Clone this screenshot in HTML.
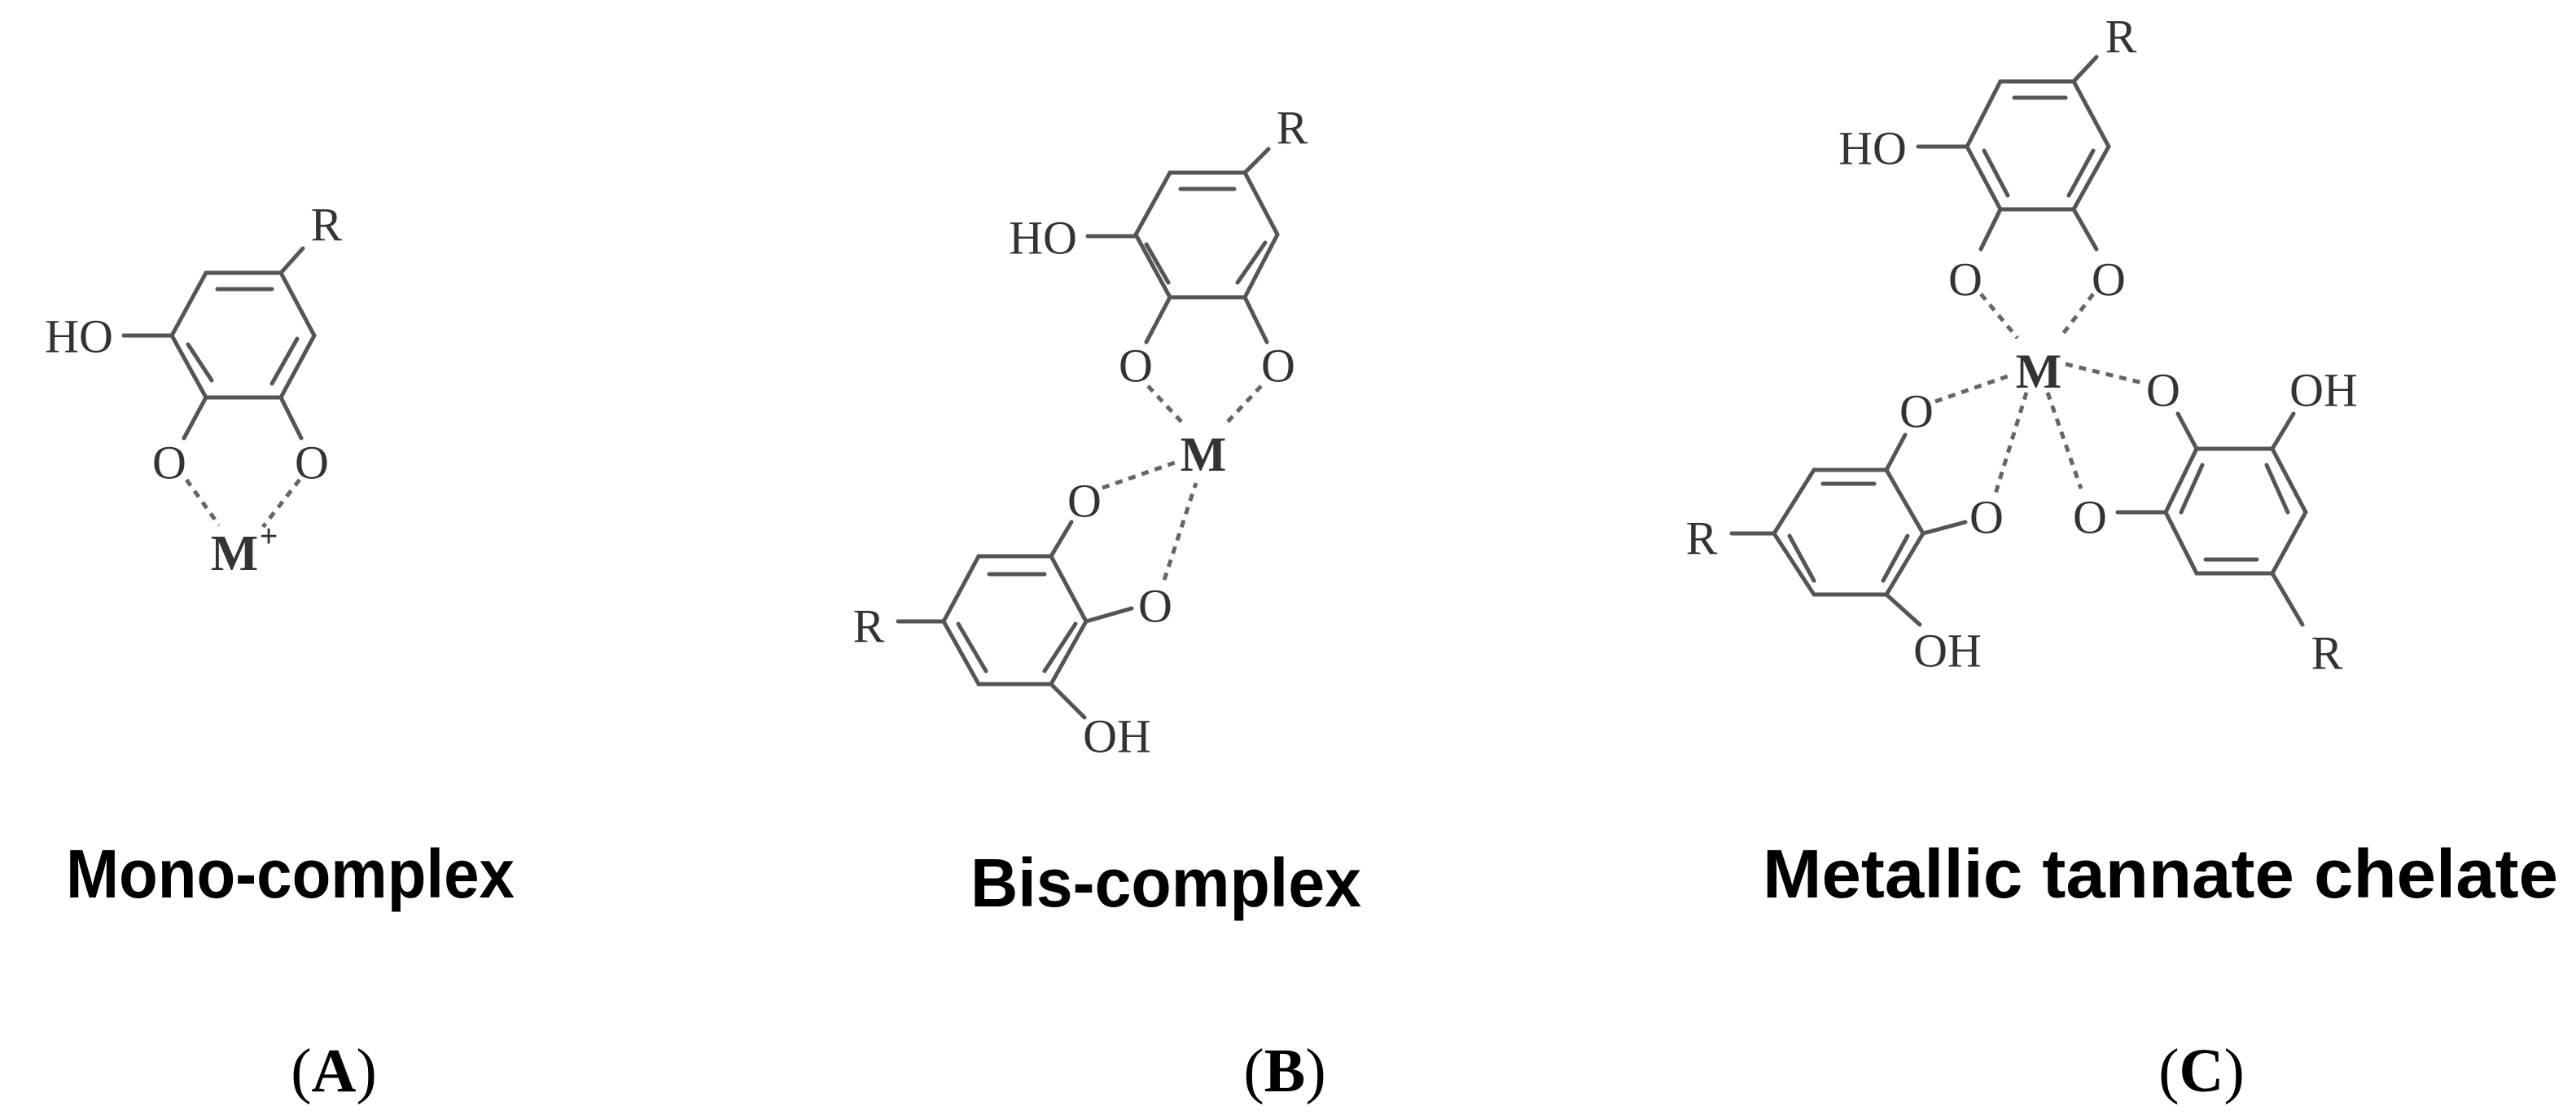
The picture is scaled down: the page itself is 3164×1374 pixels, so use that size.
<!DOCTYPE html>
<html><head><meta charset="utf-8"><style>
html,body{margin:0;padding:0;background:#fff;}
svg{display:block;}
.b{stroke:#555;stroke-width:5;fill:none;stroke-linecap:round;}
.b2{stroke:#555;stroke-width:5;fill:none;stroke-linecap:round;}
.d{stroke:#666;stroke-width:5;fill:none;stroke-dasharray:9 8;}
.t{font-family:"Liberation Serif",serif;fill:#333;text-anchor:middle;dominant-baseline:central;}
.lab{font-family:"Liberation Sans",sans-serif;font-weight:bold;fill:#000;}
.let{font-family:"Liberation Serif",serif;fill:#000;text-anchor:middle;}
</style></head><body>
<svg width="3164" height="1374" viewBox="0 0 3164 1374" xmlns="http://www.w3.org/2000/svg">
<!-- Panel A -->
<g>
<polygon class="b" points="253,335 345,335 386,412 345,488 253,488 211,412"/>
<line class="b" x1="267" y1="355" x2="334" y2="355"/>
<line class="b" x1="231" y1="423" x2="260" y2="467"/>
<line class="b" x1="365" y1="416" x2="334" y2="471"/>
<line class="b" x1="152" y1="412" x2="211" y2="412"/>
<line class="b" x1="345" y1="335" x2="372" y2="305"/>
<line class="b" x1="253" y1="488" x2="226" y2="538"/>
<line class="b" x1="345" y1="488" x2="370" y2="538"/>
<line class="d" x1="229" y1="589" x2="269" y2="645"/>
<line class="d" x1="368" y1="589" x2="323" y2="647"/>
<text class="t" x="97" y="413" font-size="58">HO</text>
<text class="t" x="401" y="276" font-size="58">R</text>
<text class="t" x="208" y="568" font-size="58">O</text>
<text class="t" x="383" y="568" font-size="58">O</text>
<text class="t" x="288" y="680" font-size="62" font-weight="bold">M</text>
<text class="t" x="330" y="658" font-size="40" font-weight="bold">+</text>
</g>
<!-- Panel B -->
<g>
<polygon class="b2" points="1437,212 1529,212 1569,288 1529,365 1437,365 1395,288"/>
<line class="b2" x1="1450" y1="232" x2="1516" y2="232"/>
<line class="b2" x1="1408" y1="300" x2="1435" y2="347"/>
<line class="b2" x1="1554" y1="298" x2="1520" y2="347"/>
<line class="b2" x1="1336" y1="290" x2="1395" y2="290"/>
<line class="b2" x1="1529" y1="212" x2="1558" y2="183"/>
<line class="b2" x1="1437" y1="365" x2="1408" y2="420"/>
<line class="b2" x1="1529" y1="365" x2="1556" y2="420"/>
<line class="d" x1="1410" y1="474" x2="1455" y2="522"/>
<line class="d" x1="1549" y1="474" x2="1504" y2="522"/>
<line class="d" x1="1354" y1="599" x2="1446" y2="567"/>
<line class="d" x1="1430" y1="712" x2="1469" y2="593"/>
<polygon class="b2" points="1202,683 1291,683 1334,763 1291,840 1202,840 1159,763"/>
<line class="b2" x1="1215" y1="705" x2="1283" y2="705"/>
<line class="b2" x1="1177" y1="766" x2="1211" y2="824"/>
<line class="b2" x1="1321" y1="766" x2="1283" y2="824"/>
<line class="b2" x1="1291" y1="683" x2="1316" y2="641"/>
<line class="b2" x1="1334" y1="763" x2="1390" y2="747"/>
<line class="b2" x1="1159" y1="763" x2="1103" y2="763"/>
<line class="b2" x1="1291" y1="840" x2="1332" y2="881"/>
<text class="t" x="1281" y="292" font-size="58">HO</text>
<text class="t" x="1587" y="157" font-size="58">R</text>
<text class="t" x="1395" y="449" font-size="58">O</text>
<text class="t" x="1570" y="449" font-size="58">O</text>
<text class="t" x="1478" y="558" font-size="60" font-weight="bold">M</text>
<text class="t" x="1332" y="615" font-size="58">O</text>
<text class="t" x="1419" y="744" font-size="58">O</text>
<text class="t" x="1067" y="769" font-size="58">R</text>
<text class="t" x="1372" y="904" font-size="58">OH</text>
</g>
<!-- Panel C -->
<g>
<polygon class="b2" points="2457,100 2547,100 2590,180 2547,257 2457,257 2416,180"/>
<line class="b2" x1="2474" y1="120" x2="2537" y2="120"/>
<line class="b2" x1="2437" y1="185" x2="2466" y2="240"/>
<line class="b2" x1="2571" y1="185" x2="2541" y2="240"/>
<line class="b2" x1="2547" y1="100" x2="2575" y2="70"/>
<line class="b2" x1="2356" y1="180" x2="2416" y2="180"/>
<line class="b2" x1="2457" y1="257" x2="2433" y2="306"/>
<line class="b2" x1="2547" y1="257" x2="2575" y2="306"/>
<line class="d" x1="2433" y1="361" x2="2478" y2="415"/>
<line class="d" x1="2571" y1="361" x2="2530" y2="415"/>
<line class="d" x1="2377" y1="493" x2="2466" y2="462"/>
<line class="d" x1="2489" y1="482" x2="2451" y2="606"/>
<line class="d" x1="2537" y1="447" x2="2631" y2="470"/>
<line class="d" x1="2515" y1="482" x2="2556" y2="600"/>
<polygon class="b2" points="2228,577 2317,577 2362,655 2317,730 2228,730 2179,655"/>
<line class="b2" x1="2239" y1="594" x2="2302" y2="594"/>
<line class="b2" x1="2198" y1="658" x2="2228" y2="713"/>
<line class="b2" x1="2343" y1="658" x2="2313" y2="713"/>
<line class="b2" x1="2317" y1="577" x2="2340" y2="534"/>
<line class="b2" x1="2362" y1="655" x2="2414" y2="641"/>
<line class="b2" x1="2179" y1="655" x2="2127" y2="655"/>
<line class="b2" x1="2317" y1="730" x2="2358" y2="767"/>
<polygon class="b2" points="2698,551 2791,551 2832,629 2791,704 2698,704 2660,629"/>
<line class="b2" x1="2709" y1="687" x2="2772" y2="687"/>
<line class="b2" x1="2810" y1="629" x2="2784" y2="571"/>
<line class="b2" x1="2679" y1="629" x2="2705" y2="571"/>
<line class="b2" x1="2698" y1="551" x2="2675" y2="508"/>
<line class="b2" x1="2660" y1="629" x2="2601" y2="629"/>
<line class="b2" x1="2791" y1="551" x2="2817" y2="508"/>
<line class="b2" x1="2791" y1="704" x2="2828" y2="767"/>
<text class="t" x="2300" y="182" font-size="58">HO</text>
<text class="t" x="2605" y="45" font-size="58">R</text>
<text class="t" x="2414" y="343" font-size="58">O</text>
<text class="t" x="2590" y="343" font-size="58">O</text>
<text class="t" x="2504" y="456" font-size="60" font-weight="bold">M</text>
<text class="t" x="2354" y="505" font-size="58">O</text>
<text class="t" x="2440" y="635" font-size="58">O</text>
<text class="t" x="2657" y="479" font-size="58">O</text>
<text class="t" x="2567" y="635" font-size="58">O</text>
<text class="t" x="2090" y="661" font-size="58">R</text>
<text class="t" x="2392" y="799" font-size="58">OH</text>
<text class="t" x="2854" y="479" font-size="58">OH</text>
<text class="t" x="2858" y="802" font-size="58">R</text>
</g>
<!-- Labels -->
<text class="lab" x="81" y="1102" font-size="84" textLength="551" lengthAdjust="spacingAndGlyphs">Mono-complex</text>
<text class="lab" x="1192" y="1113" font-size="84" textLength="480" lengthAdjust="spacingAndGlyphs">Bis-complex</text>
<text class="lab" x="2165" y="1102" font-size="84" textLength="977" lengthAdjust="spacingAndGlyphs">Metallic tannate chelate</text>
<text class="let" x="410" y="1340" font-size="76">(<tspan font-weight="bold">A</tspan>)</text>
<text class="let" x="1578" y="1340" font-size="76">(<tspan font-weight="bold">B</tspan>)</text>
<text class="let" x="2704" y="1340" font-size="76">(<tspan font-weight="bold">C</tspan>)</text>
</svg>
</body></html>
